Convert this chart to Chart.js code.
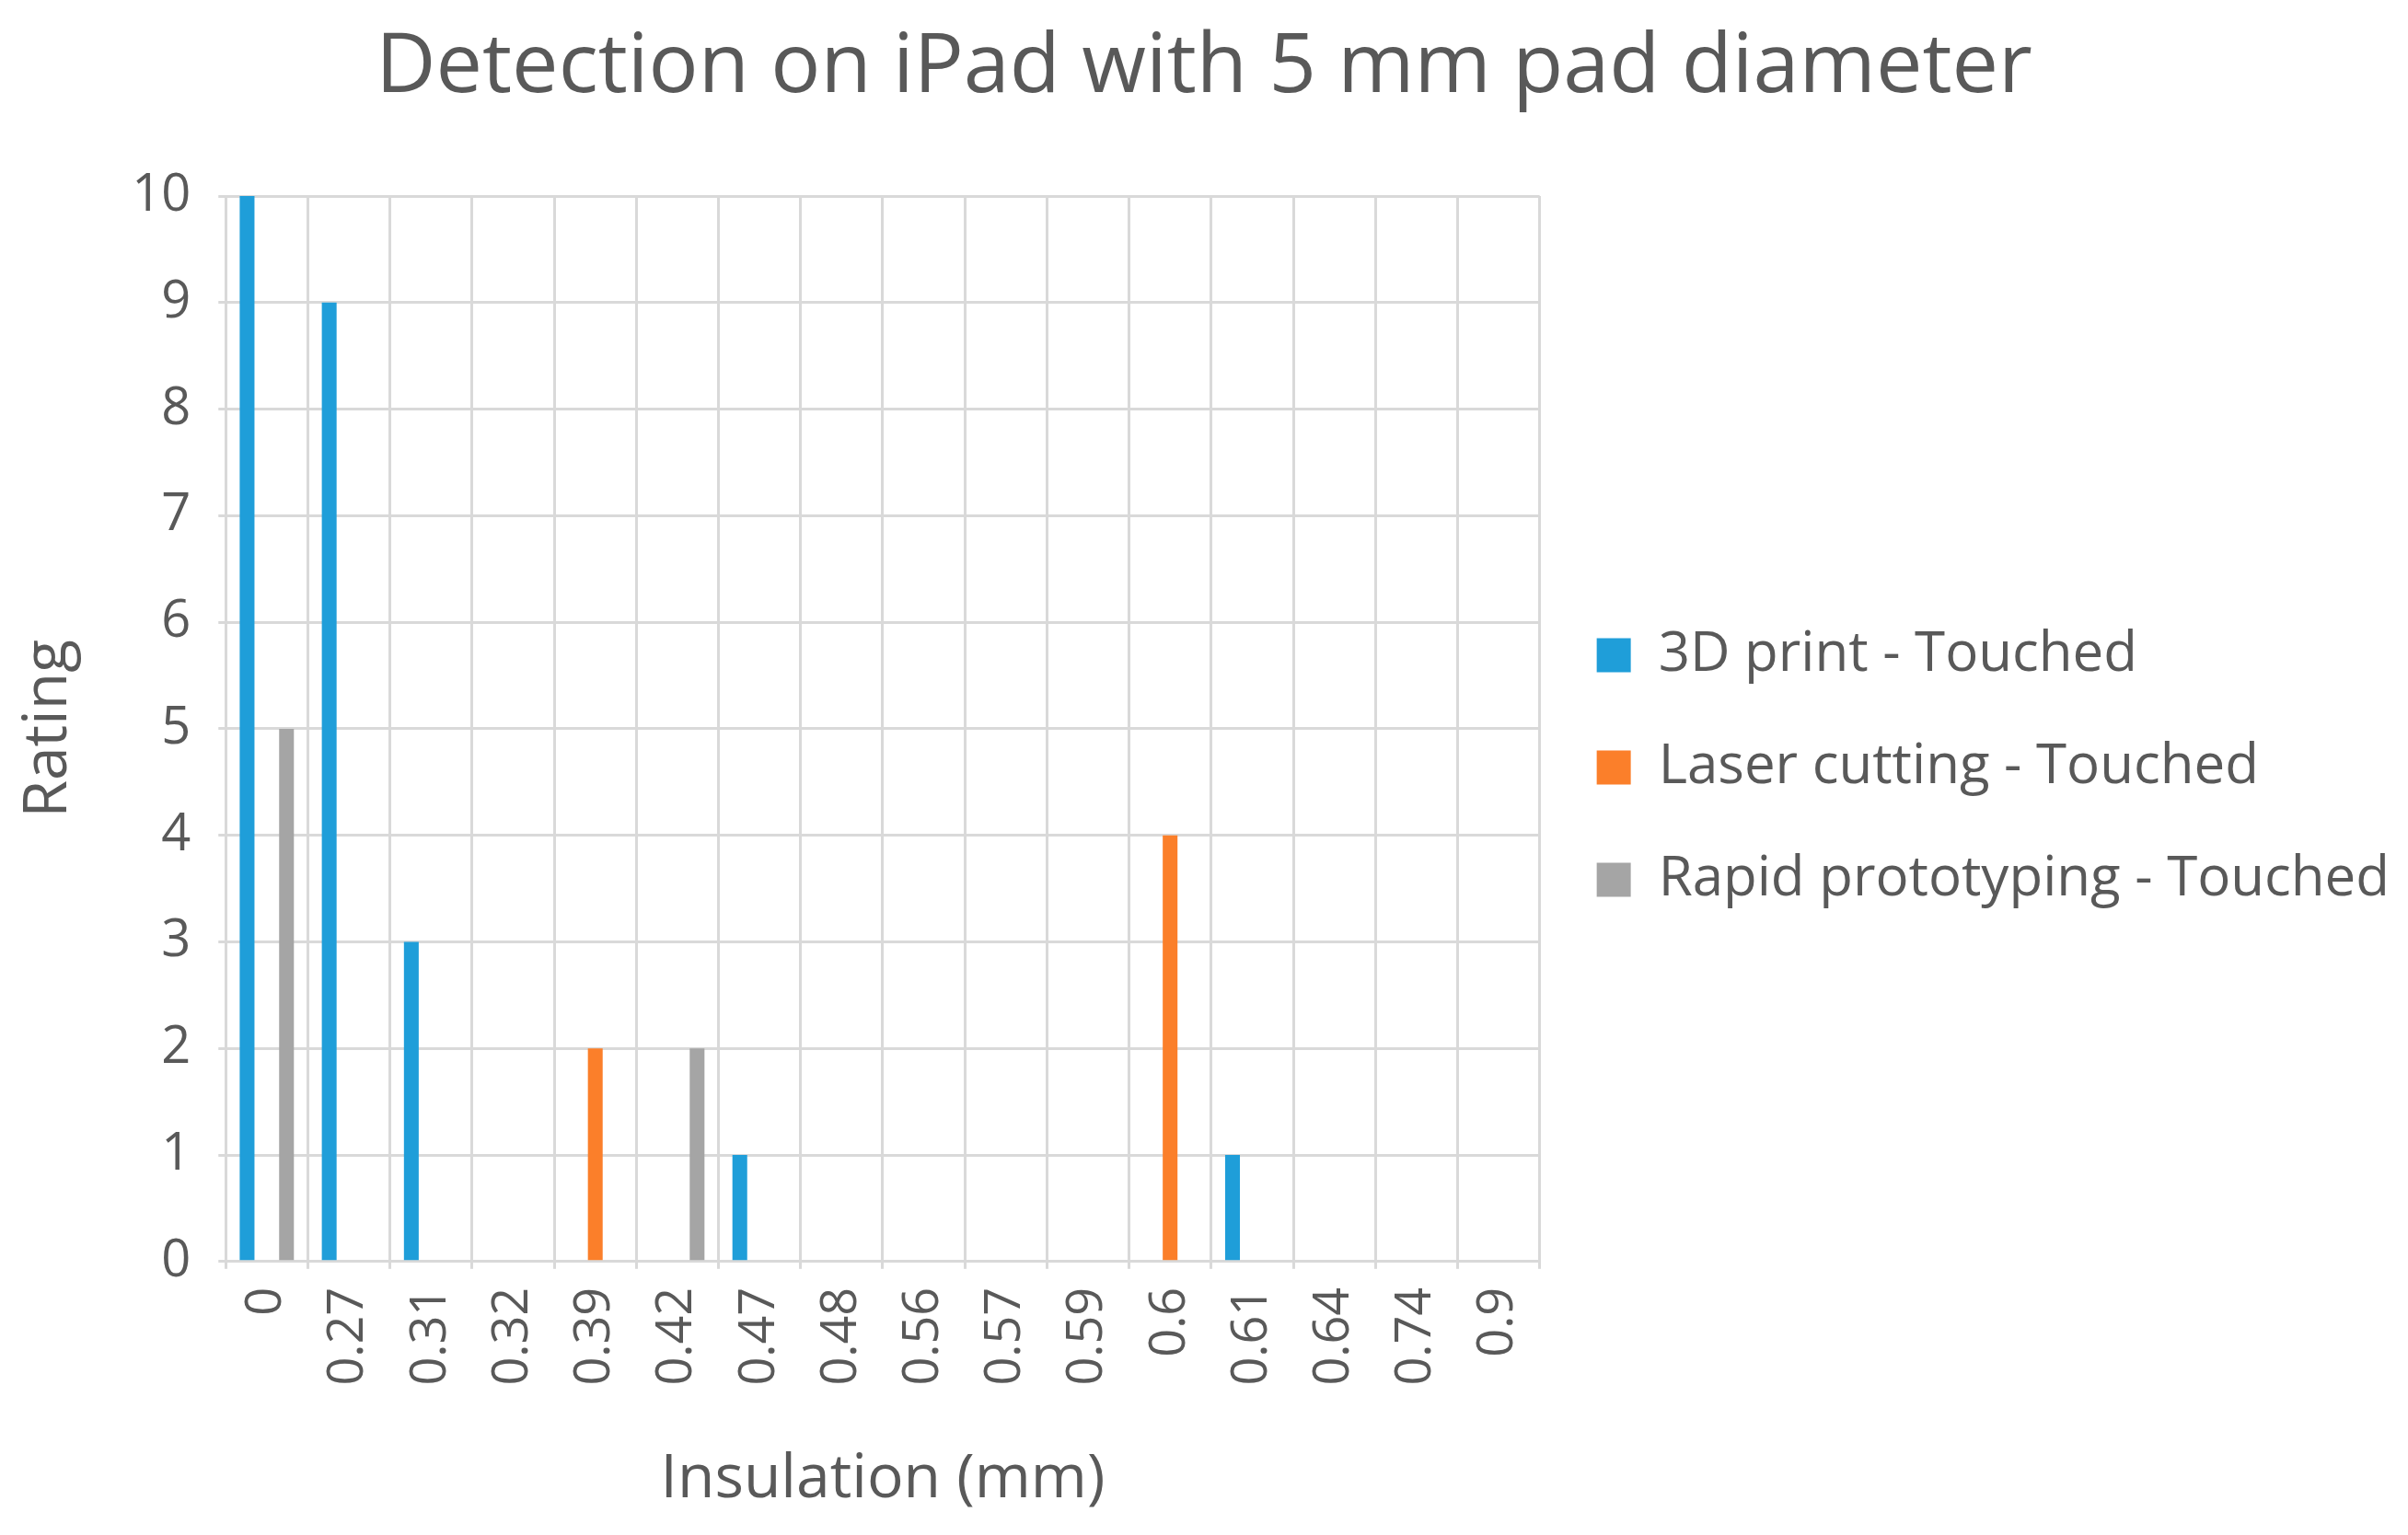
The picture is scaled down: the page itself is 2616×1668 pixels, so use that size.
<!DOCTYPE html>
<html>
<head>
<meta charset="utf-8">
<script src="https://cdn.jsdelivr.net/npm/chart.js@4"></script>
<style>
  html, body { margin: 0; padding: 0; background: #fff; }
  #wrap { width: 2616px; height: 1668px; }
</style>
</head>
<body>
<div id="wrap"><canvas id="chart"></canvas></div>
<script>
// Chart values
const categories = ["0", "0.27", "0.31", "0.32", "0.39", "0.42", "0.47", "0.48", "0.56", "0.57", "0.59", "0.6", "0.61", "0.64", "0.74", "0.9"];
const printTouched = [10, 9, 3, 0, 0, 0, 1, 0, 0, 0, 0, 0, 1, 0, 0, 0];
const laserTouched = [0, 0, 0, 0, 2, 0, 0, 0, 0, 0, 0, 4, 0, 0, 0, 0];
const rapidTouched = [5, 0, 0, 0, 0, 2, 0, 0, 0, 0, 0, 0, 0, 0, 0, 0];
const yTicks = [0, 1, 2, 3, 4, 5, 6, 7, 8, 9, 10];

const FONT = "'Open Sans', sans-serif";
const TEXT = "#595959";

// Draws the x tick labels rotated to read bottom-to-top
const verticalLabels = {
  id: "verticalLabels",
  afterDraw(chart) {
    const ctx = chart.ctx;
    const x = chart.scales.x;
    ctx.save();
    ctx.font = "54px " + FONT;
    ctx.fillStyle = TEXT;
    ctx.textAlign = "right";
    ctx.textBaseline = "middle";
    categories.forEach((label, i) => {
      ctx.save();
      ctx.translate(x.getPixelForValue(i), x.top + 28);
      ctx.rotate(-Math.PI / 2);
      ctx.fillText(label, 0, 0);
      ctx.restore();
    });
    ctx.restore();
  }
};

new Chart(document.getElementById("chart"), {
  type: "bar",
  data: {
    labels: categories,
    datasets: [
      { label: "3D print - Touched", data: printTouched, backgroundColor: "#1f9ed9" },
      { label: "Laser cutting - Touched", data: laserTouched, backgroundColor: "#fb7f2a" },
      { label: "Rapid prototyping - Touched", data: rapidTouched, backgroundColor: "#a5a5a5" }
    ]
  },
  options: {
    responsive: true,
    maintainAspectRatio: false,
    animation: false,
    datasets: { bar: { categoryPercentage: 0.72, barPercentage: 0.75 } },
    layout: { padding: { left: 10, right: 10, top: 20, bottom: 20 } },
    plugins: {
      title: {
        display: true,
        text: "Detection on iPad with 5 mm pad diameter",
        color: TEXT,
        font: { family: FONT, size: 90, weight: "normal" },
        padding: { top: 0, bottom: 85 }
      },
      legend: {
        position: "right",
        align: "center",
        maxWidth: 1000,
        labels: {
          color: TEXT,
          font: { family: FONT, size: 60 },
          boxWidth: 37,
          boxHeight: 37,
          padding: 62
        }
      },
      tooltip: { enabled: false }
    },
    scales: {
      x: {
        grid: { color: "#d9d9d9", lineWidth: 3, offset: true },
        border: { color: "#d9d9d9", width: 3 },
        ticks: { display: false },
        title: {
          display: true,
          text: "Insulation (mm)",
          color: TEXT,
          font: { family: FONT, size: 66 },
          padding: { top: 190, bottom: 0 }
        }
      },
      y: {
        min: 0,
        max: 10,
        afterBuildTicks(scale) { scale.ticks = yTicks.map(v => ({ value: v })); },
        grid: { color: "#d9d9d9", lineWidth: 3 },
        border: { display: false },
        ticks: { color: TEXT, font: { family: FONT, size: 56 }, padding: 30 },
        title: {
          display: true,
          text: "Rating",
          color: TEXT,
          font: { family: FONT, size: 66 },
          padding: { bottom: 20 }
        }
      }
    }
  },
  plugins: [verticalLabels]
});
</script>
</body>
</html>
